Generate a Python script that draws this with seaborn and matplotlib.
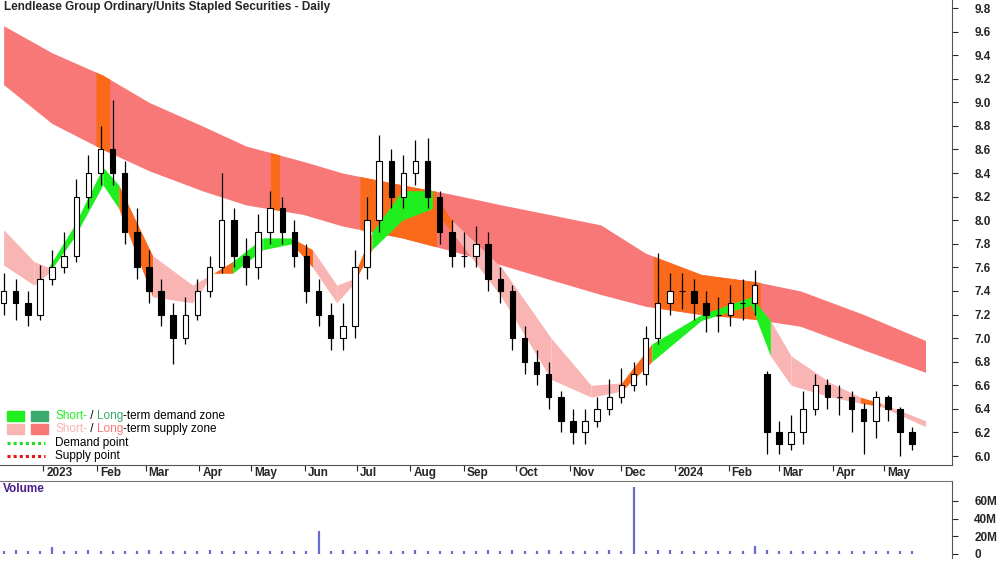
import numpy as np
import pandas as pd
import matplotlib
matplotlib.use("Agg")
import matplotlib.pyplot as plt
import seaborn as sns
from matplotlib.patches import Rectangle
from matplotlib.lines import Line2D

sns.set_style("white")
plt.rcParams['font.family'] = ['Liberation Sans', 'DejaVu Sans']

start = pd.Timestamp("2022-12-09")
n_weeks = 76
opens = [7.3,7.4,7.3,7.2,7.5,7.6,7.7,8.2,8.4,8.6, 8.4,7.9,7.6,7.4,7.2,7.0,7.2,7.4,7.6,8.0,
         7.7,7.6,7.9,8.1,7.9,7.7,7.4,7.2,7.0,7.1, 7.6,8.0,8.5,8.2,8.4,8.5,8.2,7.9,7.7,7.7,
         7.8,7.5,7.4,7.0,6.8,6.7,6.5,6.3,6.2,6.3, 6.4,6.5,6.6,6.7,7.0,7.3,7.4,7.4,7.3,7.2,
         7.2,7.3,7.3,6.7,6.2,6.1,6.2,6.4,6.6,6.5, 6.5,6.4,6.3,6.5,6.4,6.2]
closes = [7.4,7.3,7.2,7.5,7.6,7.7,8.2,8.4,8.6,8.4, 7.9,7.6,7.4,7.2,7.0,7.2,7.4,7.6,8.0,7.7,
          7.6,7.9,8.1,7.9,7.7,7.4,7.2,7.0,7.1,7.6, 8.0,8.5,8.2,8.4,8.5,8.2,7.9,7.7,7.7,7.8,
          7.5,7.4,7.0,6.8,6.7,6.5,6.3,6.2,6.3,6.4, 6.5,6.6,6.7,7.0,7.3,7.4,7.4,7.3,7.2,7.2,
          7.3,7.3,7.45,6.2,6.1,6.2,6.4,6.6,6.5,6.5, 6.4,6.3,6.5,6.4,6.2,6.1]
highs = [7.55,7.5,7.4,7.62,7.75,7.9,8.35,8.55,8.8,9.02, 8.5,8.1,7.75,7.5,7.3,7.35,7.5,7.7,8.4,8.1,
         7.85,8.05,8.25,8.2,8.0,7.8,7.5,7.3,7.3,7.75, 8.2,8.72,8.6,8.55,8.68,8.7,8.25,8.0,7.9,7.95,
         7.9,7.6,7.45,7.1,6.9,6.8,6.55,6.4,6.4,6.5, 6.65,6.75,6.8,7.1,7.72,7.55,7.55,7.5,7.4,7.35,
         7.45,7.5,7.58,6.72,6.3,6.35,6.55,6.7,6.65,6.6, 6.55,6.45,6.55,6.52,6.42,6.25]
lows = [7.2,7.15,7.1,7.15,7.45,7.55,7.65,8.1,8.3,8.3, 7.8,7.5,7.3,7.1,6.78,6.95,7.15,7.35,7.55,7.6,
        7.45,7.5,7.8,7.8,7.6,7.3,7.1,6.9,6.9,7.0, 7.5,7.9,8.1,8.1,8.3,8.1,7.8,7.6,7.6,7.6,
        7.4,7.3,6.9,6.7,6.6,6.4,6.2,6.1,6.1,6.25, 6.35,6.45,6.55,6.6,6.95,7.2,7.25,7.15,7.05,7.05,
        7.1,7.15,7.2,6.02,6.02,6.05,6.1,6.35,6.4,6.35, 6.2,6.02,6.15,6.3,6.0,6.05]
volumes_m = [3,4,3,3,8,3,3,4,3,3, 3,3,4,3,3,3,3,4,3,3, 3,3,3,3,3,3,26,3,4,3,
             4,3,3,3,4,3,3,3,3,3, 4,3,4,3,3,4,3,3,3,3, 4,3,76,3,5,4,3,3,3,3,
             3,3,9,4,3,3,3,3,3,3, 3,3,3,3,3,3]

long_w = [0, 4, 8.2, 12, 16.4, 20, 24.7, 28, 32.9, 37, 41.1, 45, 49.3, 53, 57.6, 62, 65.8, 71, 76.1]
long_top = [9.65, 9.42, 9.23, 9.0, 8.8, 8.63, 8.5, 8.4, 8.3, 8.22, 8.13, 8.05, 7.96, 7.72, 7.54, 7.48, 7.4, 7.2, 6.98]
long_bot = [9.15, 8.82, 8.6, 8.42, 8.25, 8.13, 8.05, 7.95, 7.85, 7.74, 7.62, 7.5, 7.37, 7.27, 7.2, 7.16, 7.1, 6.9, 6.71]
long_orange_spans = [(7.6, 8.8), (22.0, 22.8), (29.4, 35.8), (53.6, 62.5)]

short_w = [0,2.5,3.7,5.8,8.2,9.5,12.3,15.6,17.3,18.9,21.4,23.8,25.5,27.5,28.8,30.4,32.9,35.4,
           37,41.1,45.2,48.5,51,53.5,57.6,61.7,63.3,65,68.3,70.7,72.4,76.1]
short_top = [7.92,7.65,7.6,7.95,8.45,8.3,7.7,7.45,7.55,7.65,7.85,7.85,7.75,7.45,7.5,7.9,8.25,8.25,
             8.0,7.6,7.0,6.6,6.62,6.95,7.2,7.35,7.15,6.85,6.62,6.5,6.45,6.3]
short_bot = [7.62,7.45,7.55,7.85,8.3,8.1,7.35,7.3,7.55,7.55,7.75,7.8,7.6,7.3,7.45,7.75,8.0,8.1,
             7.9,7.35,6.65,6.5,6.55,6.8,7.15,7.28,6.85,6.6,6.5,6.45,6.42,6.25]
short_state = ['s','s','d','d','d','o','s','s','o','d','d','o','s','s','o','d','d','o',
               's','s','s','s','o','d','d','d','s','s','s','o','s','s']

months = pd.date_range("2023-01-01", "2024-05-01", freq="MS")

C_RED = "#f87878"
C_ORANGE = "#fb6a1a"
C_PINK = "#f9b4b4"
C_GREEN = "#1fef1f"
C_DGREEN = "#3aaa6e"
state_col = {'s': C_PINK, 'd': C_GREEN, 'o': C_ORANGE}

fig = plt.figure(figsize=(10, 5.62), dpi=100)
ax = fig.add_axes([0, 1 - 465/562, 0.952, 465/562])
axv = fig.add_axes([0, 0.008, 0.952, 1 - 481/562 - 0.008])

x = np.arange(n_weeks)

g = np.linspace(long_w[0], long_w[-1], 1000)
lt = np.interp(g, long_w, long_top)
lb = np.interp(g, long_w, long_bot)
ax.fill_between(g, lb, lt, color=C_RED, lw=0, zorder=1)
for a, b in long_orange_spans:
    m = (g >= a) & (g <= b)
    ax.fill_between(g, lb, lt, where=m, color=C_ORANGE, lw=0, zorder=1.1)

for i in range(len(short_w) - 1):
    ax.fill_between(short_w[i:i+2], short_bot[i:i+2], short_top[i:i+2],
                    color=state_col[short_state[i]], lw=0, zorder=1.2)

ax.vlines(x, lows, highs, color="black", lw=0.9, zorder=2)
o = np.array(opens); c = np.array(closes)
up = c >= o
ax.bar(x[up], (c - o)[up], bottom=o[up], width=0.45, color="white", edgecolor="black", lw=0.8, zorder=3)
ax.bar(x[~up], (o - c)[~up], bottom=c[~up], width=0.45, color="black", edgecolor="black", lw=0.8, zorder=3)

xmax = 952/12.16
ax.set_xlim(-0.3, xmax)
ax.set_ylim(5.924, 9.868)
ax.yaxis.tick_right()
ax.set_yticks(np.arange(6.0, 9.81, 0.2))
ax.set_yticklabels([f"{v:.1f}" for v in np.arange(6.0, 9.81, 0.2)], fontsize=8.5, fontweight="bold")
ax.tick_params(axis="y", direction="out", length=4, pad=12, right=True)
mpos = [(m - start).days / 7 for m in months]
ax.set_xticks(mpos)
ax.set_xticklabels([])
ax.tick_params(axis="x", direction="out", length=4, bottom=True)
for m, p in zip(months, mpos):
    lab = str(m.year) if m.month == 1 else m.strftime("%b")
    ax.text(p + 0.25, -0.005, lab, transform=ax.get_xaxis_transform(), ha="left", va="top",
            fontsize=8.5, fontweight="bold")
for s in ["top", "left"]:
    ax.spines[s].set_visible(False)
ax.spines["bottom"].set_color("#555555")
ax.spines["right"].set_color("#555555")
ax.text(0.004, 0.997, "Lendlease Group Ordinary/Units Stapled Securities - Daily",
        transform=ax.transAxes, ha="left", va="top", fontsize=8.5, fontweight="bold")

vol = np.array(volumes_m, dtype=float) * 1e6
axv.vlines(x, 0, vol, color="#6a6ad0", lw=1.6, zorder=3)
axv.set_xlim(-0.3, xmax)
axv.set_ylim(-4e6, 82.5e6)
axv.yaxis.tick_right()
axv.set_yticks([0, 20e6, 40e6, 60e6])
axv.set_yticklabels(["0", "20M", "40M", "60M"], fontsize=8.5, fontweight="bold")
axv.tick_params(axis="y", direction="out", length=4, pad=12, right=True)
axv.set_xticks([])
for s in ["bottom", "left"]:
    axv.spines[s].set_visible(False)
axv.spines["top"].set_color("#777777")
axv.spines["right"].set_color("#555555")
axv.text(0.003, 0.97, "Volume", transform=axv.transAxes, ha="left", va="top",
         fontsize=8.5, fontweight="bold", color="#4b1d8a")

def fx(px): return px / 1000
def fy(py): return 1 - py / 562
fig.add_artist(Rectangle((fx(7), fy(421)), fx(17), 10/562, color=C_GREEN, transform=fig.transFigure))
fig.add_artist(Rectangle((fx(31), fy(421)), fx(17), 10/562, color=C_DGREEN, transform=fig.transFigure))
fig.add_artist(Rectangle((fx(7), fy(434)), fx(17), 10/562, color=C_PINK, transform=fig.transFigure))
fig.add_artist(Rectangle((fx(31), fy(434)), fx(17), 10/562, color=C_RED, transform=fig.transFigure))
fig.add_artist(Line2D([fx(7), fx(45)], [fy(443), fy(443)], color="#22dd22", lw=2.2, ls=(0, (1, 1)), transform=fig.transFigure))
fig.add_artist(Line2D([fx(7), fx(45)], [fy(456), fy(456)], color="#ee1111", lw=2.2, ls=(0, (1, 1)), transform=fig.transFigure))

fig.canvas.draw()
rend = fig.canvas.get_renderer()
def pieces(py, parts):
    xp = 55
    for txt, col in parts:
        t = fig.text(fx(xp), fy(py), txt, color=col, fontsize=8.5, va="center", ha="left")
        bb = t.get_window_extent(renderer=rend)
        xp += bb.width
pieces(416, [("Short-", C_GREEN), (" / ", "black"), ("Long", C_DGREEN), ("-term demand zone", "black")])
pieces(429, [("Short-", C_PINK), (" / ", "black"), ("Long", C_RED), ("-term supply zone", "black")])
pieces(443, [("Demand point", "black")])
pieces(456, [("Supply point", "black")])

fig.savefig("out.png", dpi=100)
